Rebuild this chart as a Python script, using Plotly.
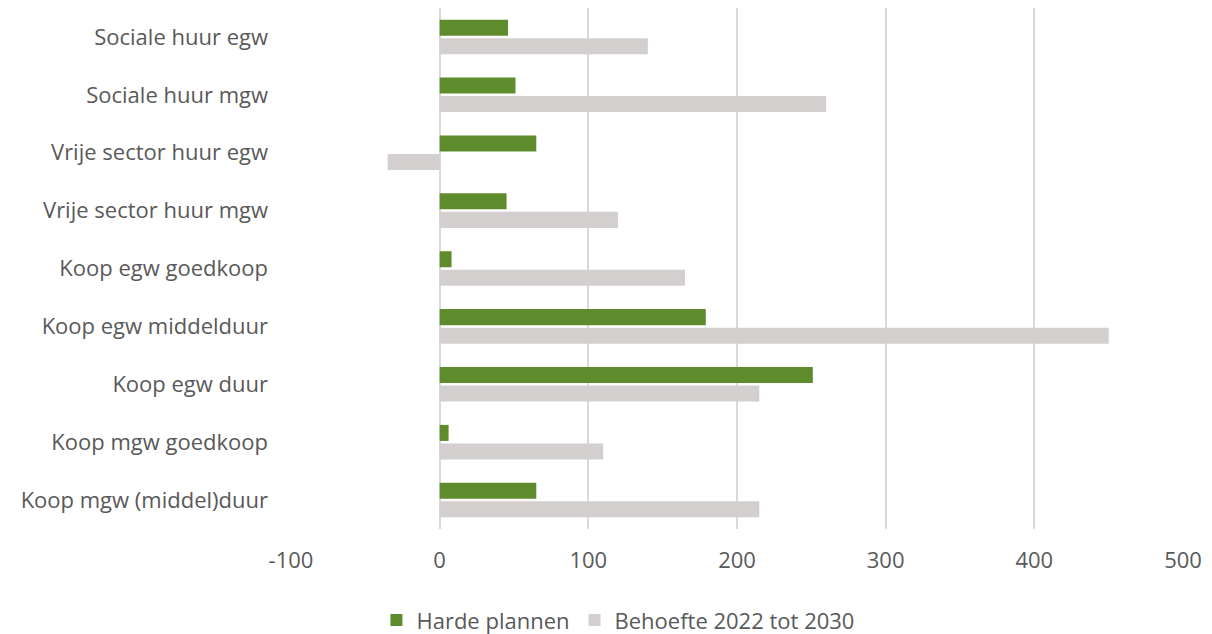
import plotly.graph_objects as go

categories = [
    "Sociale huur egw",
    "Sociale huur mgw",
    "Vrije sector huur egw",
    "Vrije sector huur mgw",
    "Koop egw goedkoop",
    "Koop egw middelduur",
    "Koop egw duur",
    "Koop mgw goedkoop",
    "Koop mgw (middel)duur",
]
harde_plannen = [46, 51, 65, 45, 8, 179, 251, 6, 65]
behoefte = [140, 260, -35, 120, 165, 450, 215, 110, 215]
tick_vals = [-100, 0, 100, 200, 300, 400, 500]

FONT = "Open Sans"
TEXT = "#595959"

fig = go.Figure()
fig.add_trace(go.Bar(
    y=categories, x=harde_plannen, orientation="h",
    name="Harde plannen", marker=dict(color="#5e8b2c", line=dict(width=0)),
))
fig.add_trace(go.Bar(
    y=categories, x=behoefte, orientation="h",
    name="Behoefte 2022 tot 2030", marker=dict(color="#d3cfce", line=dict(width=0)),
))

fig.update_layout(
    width=1196, height=626,
    margin=dict(l=283, r=21, t=0, b=105),
    paper_bgcolor="white", plot_bgcolor="white",
    barmode="group", bargap=0.36, bargroupgap=0.135,
    font=dict(family=FONT, color=TEXT, size=21),
    showlegend=True,
    legend=dict(
        orientation="h", xref="container", yref="container",
        x=0.51, xanchor="center", y=0.022, yanchor="middle",
        font=dict(size=22, color=TEXT, family=FONT),
        itemwidth=30, traceorder="normal",
    ),
    xaxis=dict(
        range=[-100, 500], tickvals=tick_vals, ticktext=[str(v) for v in tick_vals],
        showgrid=True, gridcolor="#d9d9d9", gridwidth=2,
        zeroline=True, zerolinecolor="#d9d9d9", zerolinewidth=2,
        showline=False, ticks="", ticklabelstandoff=16,
        tickfont=dict(size=22, color=TEXT, family=FONT),
    ),
    yaxis=dict(
        autorange="reversed", showgrid=False, zeroline=False, showline=False,
        ticks="", ticklabelstandoff=22,
        tickfont=dict(size=22, color=TEXT, family=FONT),
    ),
)

fig.write_html("out.html")
